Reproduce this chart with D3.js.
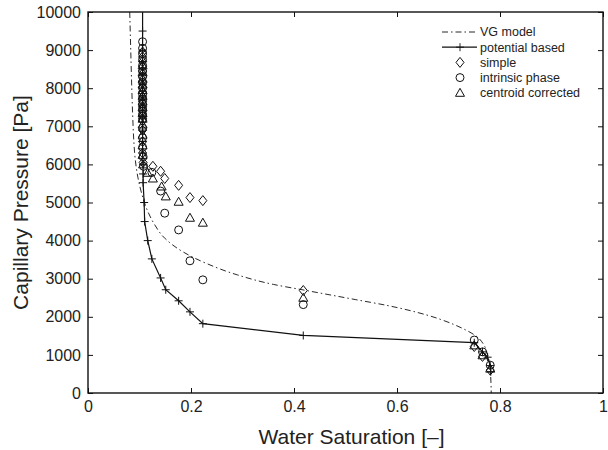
<!DOCTYPE html>
<html>
<head>
<meta charset="utf-8">
<script src="https://cdn.jsdelivr.net/npm/d3@7"></script>
<style>
  body { margin: 0; background: #fff; }
  text { font-family: "Liberation Sans", Arial, Helvetica, sans-serif; fill: #222; }
</style>
</head>
<body>
<div id="chart"></div>
<script>
// ---- data ----
const xTicks = [0, 0.2, 0.4, 0.6, 0.8, 1];
const yTicks = [0, 1000, 2000, 3000, 4000, 5000, 6000, 7000, 8000, 9000, 10000];

// [water saturation, capillary pressure]
const vgModel = [
  [0.081, 10000], [0.083, 9000], [0.085, 8000], [0.087, 7200], [0.089, 6600],
  [0.092, 6100], [0.097, 5650], [0.105, 5200], [0.115, 4800], [0.128, 4450],
  [0.150, 4050], [0.185, 3700], [0.230, 3400], [0.290, 3100], [0.360, 2850],
  [0.420, 2700], [0.520, 2450], [0.580, 2300], [0.657, 2050], [0.710, 1800],
  [0.734, 1650], [0.756, 1470], [0.767, 1300], [0.776, 1000], [0.781, 600],
  [0.783, 0]
];

const potentialBased = [
  [0.106, 12000], [0.106, 9500], [0.106, 9000], [0.106, 8700], [0.106, 8400],
  [0.106, 8100], [0.106, 7800], [0.106, 7500], [0.106, 7200], [0.106, 6900],
  [0.106, 6600], [0.106, 6300], [0.107, 6000], [0.107, 5750], [0.107, 5520],
  [0.109, 5000], [0.110, 4500], [0.116, 4000], [0.124, 3520], [0.141, 3020],
  [0.151, 2710], [0.176, 2420], [0.198, 2130], [0.223, 1820], [0.418, 1510],
  [0.750, 1320], [0.766, 1080], [0.776, 940], [0.781, 720], [0.782, 560]
];

const simple = [
  [0.106, 8950], [0.106, 8820], [0.106, 8700], [0.106, 8570], [0.106, 8450],
  [0.106, 8300], [0.106, 8150], [0.106, 8020], [0.106, 7900], [0.106, 7770],
  [0.106, 7650], [0.106, 7520], [0.106, 7400], [0.106, 7270], [0.106, 7150],
  [0.106, 6900], [0.106, 6600], [0.106, 6300], [0.107, 6050], [0.126, 5950],
  [0.141, 5820], [0.149, 5630], [0.176, 5450], [0.198, 5130], [0.223, 5050],
  [0.418, 2690], [0.750, 1220], [0.766, 960], [0.781, 600]
];

const intrinsicPhase = [
  [0.106, 9220], [0.106, 9050], [0.106, 8900], [0.106, 8750], [0.106, 8600],
  [0.106, 8450], [0.106, 8300], [0.106, 8150], [0.106, 8000], [0.106, 7850],
  [0.106, 7700], [0.106, 7580], [0.106, 7450], [0.106, 7320], [0.106, 7200],
  [0.106, 6950], [0.106, 6700], [0.106, 6450], [0.107, 6200], [0.108, 5950],
  [0.124, 5790], [0.141, 5300], [0.149, 4720], [0.176, 4280], [0.198, 3470],
  [0.223, 2970], [0.418, 2320], [0.750, 1390], [0.766, 1080], [0.781, 730]
];

const centroidCorrected = [
  [0.106, 8600], [0.106, 8420], [0.106, 8250], [0.106, 8100], [0.106, 7950],
  [0.106, 7800], [0.106, 7650], [0.106, 7500], [0.106, 7350], [0.106, 7200],
  [0.106, 7050], [0.106, 6780], [0.106, 6500], [0.106, 6250], [0.107, 6000],
  [0.116, 5780], [0.126, 5630], [0.143, 5420], [0.151, 5160], [0.176, 5020],
  [0.198, 4600], [0.223, 4470], [0.418, 2500], [0.750, 1250], [0.766, 990],
  [0.781, 640]
];

const legendLabels = ["VG model", "potential based", "simple", "intrinsic phase", "centroid corrected"];

// ---- layout ----
const width = 608, height = 450;
const margin = { top: 12, right: 5, bottom: 57, left: 88 };
const innerW = width - margin.left - margin.right;
const innerH = height - margin.top - margin.bottom;

const svg = d3.select("#chart").append("svg")
  .attr("width", width)
  .attr("height", height);

const g = svg.append("g").attr("transform", `translate(${margin.left},${margin.top})`);

const x = d3.scaleLinear().domain([0, 1]).range([0, innerW]);
const y = d3.scaleLinear().domain([0, 10000]).range([innerH, 0]);

g.append("clipPath").attr("id", "plotClip")
  .append("rect").attr("x", -6).attr("y", 0).attr("width", innerW + 12).attr("height", innerH);

// axes: ticks pointing inward on all four sides
const tickLen = 5;
const fontTick = "16px";

const xBottom = g.append("g").attr("transform", `translate(0,${innerH})`)
  .call(d3.axisBottom(x).tickValues(xTicks).tickSize(-tickLen).tickPadding(8).tickFormat(d3.format("")));
const xTop = g.append("g")
  .call(d3.axisTop(x).tickValues(xTicks).tickSize(-tickLen).tickFormat(""));
const yLeft = g.append("g")
  .call(d3.axisLeft(y).tickValues(yTicks).tickSize(-tickLen).tickPadding(7).tickFormat(d3.format("")));
const yRight = g.append("g").attr("transform", `translate(${innerW},0)`)
  .call(d3.axisRight(y).tickValues(yTicks).tickSize(-tickLen).tickFormat(""));

[xBottom, xTop, yLeft, yRight].forEach(ax => {
  ax.select(".domain").remove();
  ax.selectAll(".tick line").attr("stroke", "#111").attr("stroke-width", 1);
  ax.selectAll(".tick text").style("font-size", fontTick).attr("fill", "#222");
});

// box
g.append("rect")
  .attr("width", innerW).attr("height", innerH)
  .attr("fill", "none").attr("stroke", "#111").attr("stroke-width", 1.4);

// axis titles
svg.append("text")
  .attr("x", margin.left + innerW / 2 + 6)
  .attr("y", 444)
  .attr("text-anchor", "middle")
  .style("font-size", "21px")
  .text("Water Saturation [\u2013]");

svg.append("text")
  .attr("transform", `translate(28,${margin.top + innerH / 2}) rotate(-90)`)
  .attr("text-anchor", "middle")
  .style("font-size", "21px")
  .text("Capillary Pressure [Pa]");

// ---- marks ----
const plot = g.append("g").attr("clip-path", "url(#plotClip)");
const line = d3.line().curve(d3.curveMonotoneY).x(d => x(d[0])).y(d => y(d[1]));
const polyline = d3.line().x(d => x(d[0])).y(d => y(d[1]));

plot.append("path").datum(vgModel)
  .attr("d", line)
  .attr("fill", "none").attr("stroke", "#111").attr("stroke-width", 0.9)
  .attr("stroke-dasharray", "6,3,1.5,3");

plot.append("path").datum(potentialBased)
  .attr("d", polyline)
  .attr("fill", "none").attr("stroke", "#111").attr("stroke-width", 1.2);

const plusPath = "M-4,0H4M0,-4V4";
const diamondPath = "M0,-5L4,0L0,5L-4,0Z";
const trianglePath = "M0,-4.5L4.5,3.5L-4.5,3.5Z";
const circlePath = d3.symbol(d3.symbolCircle, 50)();

function drawMarkers(data, path, cls) {
  plot.selectAll("." + cls).data(data).join("path")
    .attr("class", cls)
    .attr("transform", d => `translate(${x(d[0])},${y(d[1])})`)
    .attr("d", path)
    .attr("fill", "none").attr("stroke", "#111").attr("stroke-width", 1);
}

drawMarkers(potentialBased, plusPath, "plus");
drawMarkers(simple, diamondPath, "diamond");
drawMarkers(intrinsicPhase, circlePath, "circle");
drawMarkers(centroidCorrected, trianglePath, "triangle");

// ---- legend ----
const legend = svg.append("g").attr("transform", "translate(442,32)");
const rowH = 15.2;
legendLabels.forEach((label, i) => {
  const row = legend.append("g").attr("transform", `translate(0,${i * rowH})`);
  if (i === 0) {
    row.append("line").attr("x1", 0).attr("x2", 35)
      .attr("stroke", "#111").attr("stroke-width", 0.9).attr("stroke-dasharray", "6,3,1.5,3");
  } else if (i === 1) {
    row.append("line").attr("x1", 0).attr("x2", 35)
      .attr("stroke", "#111").attr("stroke-width", 1.2);
    row.append("path").attr("transform", "translate(18,0)").attr("d", plusPath)
      .attr("stroke", "#111").attr("stroke-width", 0.9);
  } else {
    const p = i === 2 ? diamondPath : i === 3 ? circlePath : trianglePath;
    row.append("path").attr("transform", "translate(18,0)").attr("d", p)
      .attr("fill", "none").attr("stroke", "#111").attr("stroke-width", 1);
  }
  row.append("text").attr("x", 38).attr("dy", "0.35em")
    .style("font-size", "12.5px").text(label);
});
</script>
</body>
</html>
